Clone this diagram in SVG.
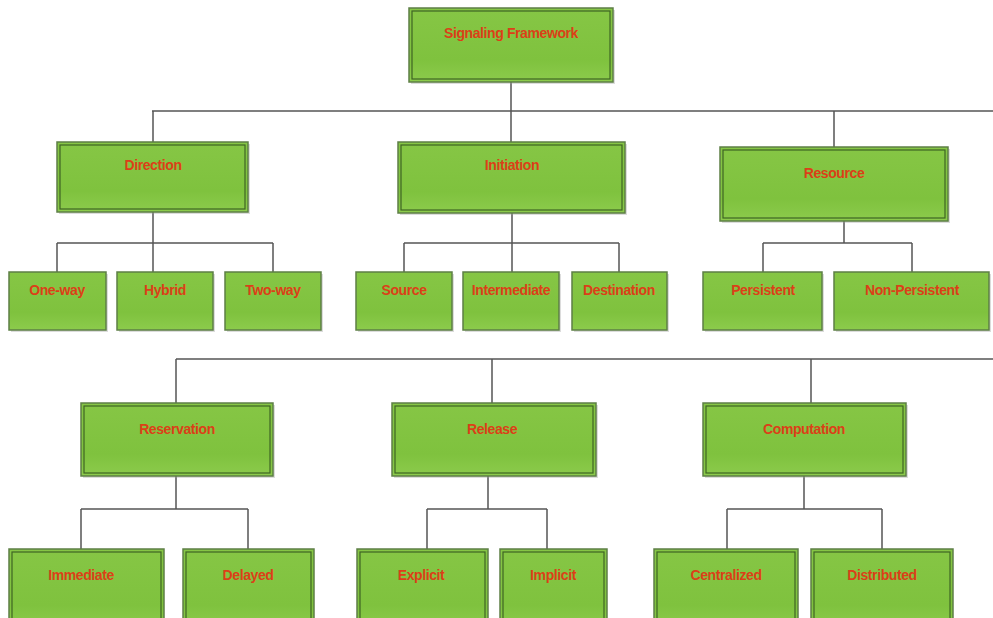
<svg xmlns="http://www.w3.org/2000/svg" width="993" height="618" viewBox="0 0 993 618">
  <defs>
    <linearGradient id="boxFill" x1="0" y1="0" x2="0" y2="1">
      <stop offset="0" stop-color="#86c645"/>
      <stop offset="0.7" stop-color="#7fc23e"/>
      <stop offset="1" stop-color="#8ccb4c"/>
    </linearGradient>
  </defs>
  <style>
    .shadow { fill: #9a9a9a; opacity: 0.35; }
    .outer { fill: url(#boxFill); stroke: #5d7f45; stroke-width: 1.5; }
    .inner { fill: none; stroke: #3e6424; stroke-width: 1.2; }
    .label { font-family: "Liberation Sans", Arial, sans-serif; font-weight: bold; font-size: 14px; letter-spacing: -0.4px; fill: #dc3f18; text-anchor: middle; }
    .wire { fill: none; stroke: #555555; stroke-width: 1.5; }
  </style>

  <rect width="993" height="618" fill="#ffffff"/>

  <!-- connectors -->
  <g id="connectors">
    <!-- root to first tier -->
    <path class="wire" d="M511 82 V111 M152 111 H993 M153 111 V142 M511 111 V142 M834 111 V147"/>
    <!-- direction children -->
    <path class="wire" d="M153 212 V243 M57 243 H273 M57 243 V272 M153 243 V272 M273 243 V272"/>
    <!-- initiation children -->
    <path class="wire" d="M512 213 V243 M404 243 H619 M404 243 V272 M512 243 V272 M619 243 V272"/>
    <!-- resource children -->
    <path class="wire" d="M844 221 V243 M763 243 H912 M763 243 V272 M912 243 V272"/>
    <!-- second tier bus -->
    <path class="wire" d="M176 359 H993 M176 359 V403 M492 359 V403 M811 359 V403"/>
    <!-- reservation children -->
    <path class="wire" d="M176 476 V509 M81 509 H248 M81 509 V549 M248 509 V549"/>
    <!-- release children -->
    <path class="wire" d="M488 476 V509 M427 509 H547 M427 509 V549 M547 509 V549"/>
    <!-- computation children -->
    <path class="wire" d="M804 476 V509 M727 509 H882 M727 509 V549 M882 509 V549"/>
  </g>

  <!-- root -->
  <g id="signaling-framework">
    <rect class="shadow" x="411" y="10" width="204" height="74"/>
    <rect class="outer" x="409" y="8" width="204" height="74"/>
    <rect class="inner" x="412" y="11" width="198" height="68"/>
    <text class="label" x="511" y="38">Signaling Framework</text>
  </g>

  <!-- first tier -->
  <g id="direction">
    <rect class="shadow" x="59" y="144" width="191" height="70"/>
    <rect class="outer" x="57" y="142" width="191" height="70"/>
    <rect class="inner" x="60" y="145" width="185" height="64"/>
    <text class="label" x="153" y="170">Direction</text>
  </g>
  <g id="initiation">
    <rect class="shadow" x="400" y="144" width="227" height="71"/>
    <rect class="outer" x="398" y="142" width="227" height="71"/>
    <rect class="inner" x="401" y="145" width="221" height="65"/>
    <text class="label" x="512" y="170">Initiation</text>
  </g>
  <g id="resource">
    <rect class="shadow" x="722" y="149" width="228" height="74"/>
    <rect class="outer" x="720" y="147" width="228" height="74"/>
    <rect class="inner" x="723" y="150" width="222" height="68"/>
    <text class="label" x="834" y="178">Resource</text>
  </g>

  <!-- direction leaves -->
  <g id="one-way">
    <rect class="shadow" x="11" y="274" width="97" height="58"/>
    <rect class="outer" x="9" y="272" width="97" height="58"/>
    <text class="label" x="57" y="295">One-way</text>
  </g>
  <g id="hybrid">
    <rect class="shadow" x="119" y="274" width="96" height="58"/>
    <rect class="outer" x="117" y="272" width="96" height="58"/>
    <text class="label" x="165" y="295">Hybrid</text>
  </g>
  <g id="two-way">
    <rect class="shadow" x="227" y="274" width="96" height="58"/>
    <rect class="outer" x="225" y="272" width="96" height="58"/>
    <text class="label" x="273" y="295">Two-way</text>
  </g>

  <!-- initiation leaves -->
  <g id="source">
    <rect class="shadow" x="358" y="274" width="96" height="58"/>
    <rect class="outer" x="356" y="272" width="96" height="58"/>
    <text class="label" x="404" y="295">Source</text>
  </g>
  <g id="intermediate">
    <rect class="shadow" x="465" y="274" width="96" height="58"/>
    <rect class="outer" x="463" y="272" width="96" height="58"/>
    <text class="label" x="511" y="295">Intermediate</text>
  </g>
  <g id="destination">
    <rect class="shadow" x="574" y="274" width="95" height="58"/>
    <rect class="outer" x="572" y="272" width="95" height="58"/>
    <text class="label" x="619" y="295">Destination</text>
  </g>

  <!-- resource leaves -->
  <g id="persistent">
    <rect class="shadow" x="705" y="274" width="119" height="58"/>
    <rect class="outer" x="703" y="272" width="119" height="58"/>
    <text class="label" x="763" y="295">Persistent</text>
  </g>
  <g id="non-persistent">
    <rect class="shadow" x="836" y="274" width="155" height="58"/>
    <rect class="outer" x="834" y="272" width="155" height="58"/>
    <text class="label" x="912" y="295">Non-Persistent</text>
  </g>

  <!-- second tier -->
  <g id="reservation">
    <rect class="shadow" x="83" y="405" width="192" height="73"/>
    <rect class="outer" x="81" y="403" width="192" height="73"/>
    <rect class="inner" x="84" y="406" width="186" height="67"/>
    <text class="label" x="177" y="434">Reservation</text>
  </g>
  <g id="release">
    <rect class="shadow" x="394" y="405" width="204" height="73"/>
    <rect class="outer" x="392" y="403" width="204" height="73"/>
    <rect class="inner" x="395" y="406" width="198" height="67"/>
    <text class="label" x="492" y="434">Release</text>
  </g>
  <g id="computation">
    <rect class="shadow" x="705" y="405" width="203" height="73"/>
    <rect class="outer" x="703" y="403" width="203" height="73"/>
    <rect class="inner" x="706" y="406" width="197" height="67"/>
    <text class="label" x="804" y="434">Computation</text>
  </g>

  <!-- second tier leaves -->
  <g id="immediate">
    <rect class="outer" x="9" y="549" width="155" height="80"/>
    <rect class="inner" x="12" y="552" width="149" height="80"/>
    <text class="label" x="81" y="580">Immediate</text>
  </g>
  <g id="delayed">
    <rect class="outer" x="183" y="549" width="131" height="80"/>
    <rect class="inner" x="186" y="552" width="125" height="80"/>
    <text class="label" x="248" y="580">Delayed</text>
  </g>
  <g id="explicit">
    <rect class="outer" x="357" y="549" width="131" height="80"/>
    <rect class="inner" x="360" y="552" width="125" height="80"/>
    <text class="label" x="421" y="580">Explicit</text>
  </g>
  <g id="implicit">
    <rect class="outer" x="500" y="549" width="107" height="80"/>
    <rect class="inner" x="503" y="552" width="101" height="80"/>
    <text class="label" x="553" y="580">Implicit</text>
  </g>
  <g id="centralized">
    <rect class="outer" x="654" y="549" width="144" height="80"/>
    <rect class="inner" x="657" y="552" width="138" height="80"/>
    <text class="label" x="726" y="580">Centralized</text>
  </g>
  <g id="distributed">
    <rect class="outer" x="811" y="549" width="142" height="80"/>
    <rect class="inner" x="814" y="552" width="136" height="80"/>
    <text class="label" x="882" y="580">Distributed</text>
  </g>
</svg>
